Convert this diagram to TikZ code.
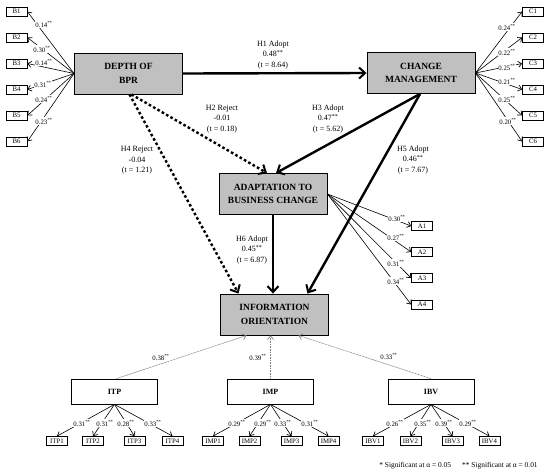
\documentclass[tikz,border=0pt]{standalone}
\usepackage{fontspec}
\setmainfont{Liberation Serif}
\usetikzlibrary{arrows.meta}
\definecolor{boxgray}{HTML}{C0C0C0}
\definecolor{faintline}{HTML}{808080}
\begin{document}
\begin{tikzpicture}[x=1pt,y=-1pt,
  big/.style={draw, line width=0.9pt, fill=boxgray, font=\fontsize{9.5}{13.5}\selectfont\bfseries, align=center, minimum width=108pt, minimum height=41pt, inner sep=0pt},
  mid/.style={draw, line width=0.8pt, fill=white, font=\fontsize{8}{10}\selectfont\bfseries, minimum width=86pt, minimum height=25pt, inner sep=0pt},
  ind/.style={draw, line width=0.7pt, fill=white, font=\fontsize{6.8}{8}\selectfont, minimum width=21pt, minimum height=9pt, inner sep=0.5pt},
  lab/.style={font=\fontsize{6.8}{8}\selectfont, inner sep=0.4pt, fill=white},
  hlab/.style={font=\fontsize{8}{10.5}\selectfont, align=center, inner sep=0pt},
  mainarr/.style={line width=2.4pt, -{Straight Barb[length=6pt,width=11pt,line width=2pt]}},
  dotarr/.style={mainarr, dash pattern=on 2.6pt off 2.4pt},
  load/.style={line width=0.6pt, -{Straight Barb[length=3.5pt,width=6pt,line width=0.7pt]}},
  faint/.style={faintline, line width=0.6pt, dash pattern=on 1pt off 0.6pt, -{Straight Barb[length=3.5pt,width=6pt,line width=0.7pt,sep=0pt]}}
]
\useasboundingbox (0,0) rectangle (550,475);

% main constructs
\node[big] (dep) at (128.5,73.5) {DEPTH OF\\BPR};
\node[big] (cm) at (421,73) {CHANGE\\MANAGEMENT};
\node[big] (ad) at (273,194) {ADAPTATION TO\\BUSINESS CHANGE};
\node[big] (io) at (274.5,314.5) {INFORMATION\\ORIENTATION};

\node[mid] (itp) at (114.5,391.5) {ITP};
\node[mid] (imp) at (270.5,391.5) {IMP};
\node[mid] (ibv) at (431,391.5) {IBV};

% indicators
\foreach \i/\y in {1/11.5,2/37.5,3/63.5,4/89.5,5/115.5,6/141.5}{
  \node[ind] (b\i) at (16.5,\y) {B\i};
  \node[ind] (c\i) at (533,\y) {C\i};
}
\foreach \i/\y in {1/226,2/252,3/278,4/304.5}{
  \node[ind] (a\i) at (422,\y) {A\i};
}
\foreach \i/\x in {1/57,2/93,3/134.5,4/172.5}{
  \node[ind] (itp\i) at (\x,441) {ITP\i};
}
\foreach \i/\x in {1/213,2/249.5,3/291.5,4/328.5}{
  \node[ind] (imp\i) at (\x,441) {IMP\i};
}
\foreach \i/\x in {1/373,2/410.5,3/452.5,4/489.5}{
  \node[ind] (ibv\i) at (\x,441) {IBV\i};
}

% loadings
\foreach \i in {1,...,6}{
  \draw[load] (dep.west) -- (b\i.east);
  \draw[load] (cm.east) -- (c\i.west);
}
\foreach \i in {1,...,4}{
  \draw[load] (ad.east) -- (a\i.west);
  \draw[load] (itp.south) -- (itp\i.north);
  \draw[load] (imp.south) -- (imp\i.north);
  \draw[load] (ibv.south) -- (ibv\i.north);
}

% loading labels
\foreach \t/\x/\y in {0.14/44/24,0.30/42/49,0.14/44/62,0.31/43/84,0.24/44/99,0.23/44/121,
  0.24/507/27,0.22/507/52,0.25/507/67,0.21/507/81,0.25/507/99,0.20/508/121,
  0.30/397/218,0.27/396/237,0.31/396/263,0.34/396/281,
  0.31/82/423,0.31/105/423,0.28/126/423,0.33/153/423,
  0.29/237/423,0.29/263/423,0.33/283/423,0.31/310/423,
  0.26/395/423,0.35/423/423,0.39/444/423,0.29/468/423}{
  \node[lab] at (\x,\y) {\t\textsuperscript{**}};
}

% second-order paths
\draw[faint] ([xshift=2pt]itp.north) -- ([xshift=-28pt]io.south);
\draw[faint] (imp.north) -- (imp.north |- io.south);
\draw[faint] (ibv.north) -- ([xshift=24pt]io.south);
\node[lab] at (161,357) {0.38\textsuperscript{**}};
\node[lab] at (258,357) {0.39\textsuperscript{**}};
\node[lab] at (389,356) {0.33\textsuperscript{**}};

% structural paths
\draw[mainarr] (dep.east) -- (cm.west);
\draw[dotarr] ([xshift=3pt]dep.south) -- ([xshift=-6pt]ad.north);
\draw[dotarr] ([xshift=1pt]dep.south) -- ([xshift=-36pt]io.north);
\draw[mainarr] ([xshift=-1pt]cm.south) -- ([xshift=3pt]ad.north);
\draw[mainarr] ([xshift=-1pt]cm.south) -- ([xshift=33pt]io.north);
\draw[mainarr] (ad.south) -- (ad.south |- io.north);

\node[hlab] at (273,55) {H1 Adopt\\0.48\textsuperscript{**}\\(t = 8.64)};
\node[hlab] at (222,119) {H2 Reject\\-0.01\\(t = 0.18)};
\node[hlab] at (328,119) {H3 Adopt\\0.47\textsuperscript{**}\\(t = 5.62)};
\node[hlab] at (137,160.5) {H4 Reject\\-0.04\\(t = 1.21)};
\node[hlab] at (413,160) {H5 Adopt\\0.46\textsuperscript{**}\\(t = 7.67)};
\node[hlab] at (252,250) {H6 Adopt\\0.45\textsuperscript{**}\\(t = 6.87)};

\node[font=\fontsize{7.4}{8}\selectfont, inner sep=0pt] (note) at (458.5,466) {* Significant at α = 0.05\quad\ \ ** Significant at α = 0.01};
\end{tikzpicture}
\end{document}
